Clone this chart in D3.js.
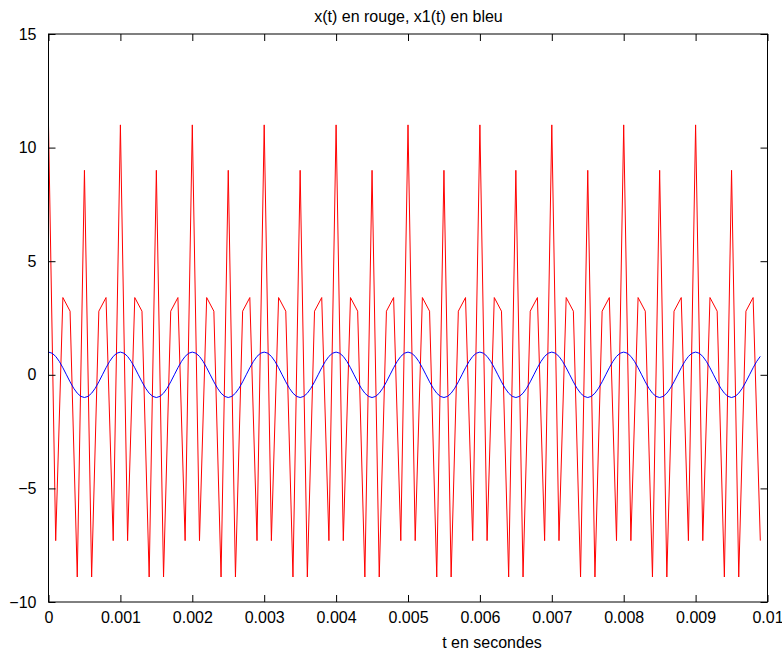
<!DOCTYPE html>
<html>
<head>
<meta charset="utf-8">
<script src="https://cdn.jsdelivr.net/npm/d3@7"></script>
<style>
  body { margin: 0; background: #fff; }
  text { font-family: "Liberation Sans", Arial, Helvetica, sans-serif; fill: #000; }
</style>
</head>
<body>
<div id="chart"></div>
<script>
const redValues = [
  11, -7.3, 3.4, 2.8, -8.9, 9, -8.9, 2.8, 3.4, -7.3,
  11, -7.3, 3.4, 2.8, -8.9, 9, -8.9, 2.8, 3.4, -7.3,
  11, -7.3, 3.4, 2.8, -8.9, 9, -8.9, 2.8, 3.4, -7.3,
  11, -7.3, 3.4, 2.8, -8.9, 9, -8.9, 2.8, 3.4, -7.3,
  11, -7.3, 3.4, 2.8, -8.9, 9, -8.9, 2.8, 3.4, -7.3,
  11, -7.3, 3.4, 2.8, -8.9, 9, -8.9, 2.8, 3.4, -7.3,
  11, -7.3, 3.4, 2.8, -8.9, 9, -8.9, 2.8, 3.4, -7.3,
  11, -7.3, 3.4, 2.8, -8.9, 9, -8.9, 2.8, 3.4, -7.3,
  11, -7.3, 3.4, 2.8, -8.9, 9, -8.9, 2.8, 3.4, -7.3,
  11, -7.3, 3.4, 2.8, -8.9, 9, -8.9, 2.8, 3.4, -7.3
];
const redStep = 0.0001;

// Signal x1(t), finer sampling (20 samples per millisecond)
const blueValues = [
  1, 0.95, 0.81, 0.59, 0.31, 0, -0.31, -0.59, -0.81, -0.95, -1, -0.95, -0.81, -0.59, -0.31, 0, 0.31, 0.59, 0.81, 0.95,
  1, 0.95, 0.81, 0.59, 0.31, 0, -0.31, -0.59, -0.81, -0.95, -1, -0.95, -0.81, -0.59, -0.31, 0, 0.31, 0.59, 0.81, 0.95,
  1, 0.95, 0.81, 0.59, 0.31, 0, -0.31, -0.59, -0.81, -0.95, -1, -0.95, -0.81, -0.59, -0.31, 0, 0.31, 0.59, 0.81, 0.95,
  1, 0.95, 0.81, 0.59, 0.31, 0, -0.31, -0.59, -0.81, -0.95, -1, -0.95, -0.81, -0.59, -0.31, 0, 0.31, 0.59, 0.81, 0.95,
  1, 0.95, 0.81, 0.59, 0.31, 0, -0.31, -0.59, -0.81, -0.95, -1, -0.95, -0.81, -0.59, -0.31, 0, 0.31, 0.59, 0.81, 0.95,
  1, 0.95, 0.81, 0.59, 0.31, 0, -0.31, -0.59, -0.81, -0.95, -1, -0.95, -0.81, -0.59, -0.31, 0, 0.31, 0.59, 0.81, 0.95,
  1, 0.95, 0.81, 0.59, 0.31, 0, -0.31, -0.59, -0.81, -0.95, -1, -0.95, -0.81, -0.59, -0.31, 0, 0.31, 0.59, 0.81, 0.95,
  1, 0.95, 0.81, 0.59, 0.31, 0, -0.31, -0.59, -0.81, -0.95, -1, -0.95, -0.81, -0.59, -0.31, 0, 0.31, 0.59, 0.81, 0.95,
  1, 0.95, 0.81, 0.59, 0.31, 0, -0.31, -0.59, -0.81, -0.95, -1, -0.95, -0.81, -0.59, -0.31, 0, 0.31, 0.59, 0.81, 0.95,
  1, 0.95, 0.81, 0.59, 0.31, 0, -0.31, -0.59, -0.81, -0.95, -1, -0.95, -0.81, -0.59, -0.31, 0, 0.31, 0.59, 0.81
];
const blueStep = 0.00005;

const xTicks = [0, 0.001, 0.002, 0.003, 0.004, 0.005, 0.006, 0.007, 0.008, 0.009, 0.01];
const xTickLabels = ['0', '0.001', '0.002', '0.003', '0.004', '0.005', '0.006', '0.007', '0.008', '0.009', '0.01'];
const yTicks = [-10, -5, 0, 5, 10, 15];
const yTickLabels = ['\u221210', '\u22125', '0', '5', '10', '15'];

const titleText = 'x(t) en rouge, x1(t) en bleu';
const xLabelText = 't en secondes';

const width = 782;
const height = 654;
const margin = { top: 34, right: 14.5, bottom: 52, left: 48.5 };
const innerW = width - margin.left - margin.right;
const innerH = height - margin.top - margin.bottom;

const svg = d3.select('#chart').append('svg')
    .attr('width', width)
    .attr('height', height);

const x = d3.scaleLinear().domain([0, 0.01]).range([0, innerW]);
const y = d3.scaleLinear().domain([-10, 15]).range([innerH, 0]);

const g = svg.append('g')
    .attr('transform', `translate(${margin.left},${margin.top})`);

const redData = redValues.map((v, i) => [i * redStep, v]);
const blueData = blueValues.map((v, i) => [i * blueStep, v]);

const line = d3.line()
    .x(d => x(d[0]))
    .y(d => y(d[1]));

// Curves: red first, blue on top
g.append('path')
    .datum(redData)
    .attr('fill', 'none')
    .attr('stroke', '#ff0000')
    .attr('stroke-width', 1)
    .attr('d', line);

g.append('path')
    .datum(blueData)
    .attr('fill', 'none')
    .attr('stroke', '#0000ff')
    .attr('stroke-width', 1)
    .attr('d', line);

// Box with inward ticks on all four sides
const tickLen = 7;
const fmtX = (d, i) => xTickLabels[i];
const fmtY = (d, i) => yTickLabels[i];

const axisStyle = sel => {
  sel.select('.domain').remove();
  sel.selectAll('line').attr('stroke', '#000');
  sel.selectAll('text')
      .style('font-size', '16px')
      .attr('fill', '#000');
};

g.append('g')
    .attr('transform', `translate(0,${innerH})`)
    .call(d3.axisBottom(x).tickValues(xTicks).tickFormat(fmtX)
      .tickSizeInner(-tickLen).tickSizeOuter(0).tickPadding(8))
    .call(axisStyle)
    .call(a => a.selectAll('text').attr('dy', '0.8em'));

g.append('g')
    .call(d3.axisTop(x).tickValues(xTicks).tickFormat('')
      .tickSizeInner(-tickLen).tickSizeOuter(0))
    .call(axisStyle);

g.append('g')
    .call(d3.axisLeft(y).tickValues(yTicks).tickFormat(fmtY)
      .tickSizeInner(-tickLen).tickSizeOuter(0).tickPadding(12))
    .call(axisStyle);

g.append('g')
    .attr('transform', `translate(${innerW},0)`)
    .call(d3.axisRight(y).tickValues(yTicks).tickFormat('')
      .tickSizeInner(-tickLen).tickSizeOuter(0))
    .call(axisStyle);

g.append('rect')
    .attr('width', innerW)
    .attr('height', innerH)
    .attr('fill', 'none')
    .attr('stroke', '#000')
    .attr('stroke-width', 1);

// Title and x label
svg.append('text')
    .attr('x', 408.5)
    .attr('y', 22)
    .attr('text-anchor', 'middle')
    .style('font-size', '16px')
    .text(titleText);

svg.append('text')
    .attr('x', 492)
    .attr('y', 648)
    .attr('text-anchor', 'middle')
    .style('font-size', '16px')
    .text(xLabelText);
</script>
</body>
</html>
